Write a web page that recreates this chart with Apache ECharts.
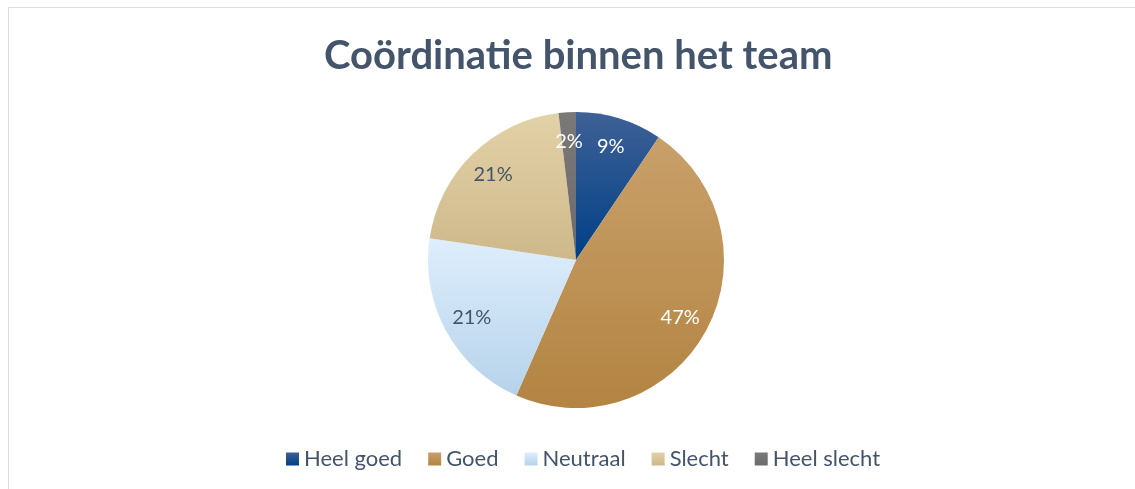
<!DOCTYPE html>
<html>
<head>
<meta charset="utf-8">
<script src="https://cdn.jsdelivr.net/npm/echarts@6/dist/echarts.min.js"></script>
<style>
  html, body { margin: 0; padding: 0; background: #fff; }
  #frame { position: absolute; left: 8px; top: 7px; width: 1140px; height: 500px;
           border-left: 1px solid #d9dde4; border-top: 1px solid #d9dde4; }
  #chart { width: 1135px; height: 489px; position: absolute; left: 0; top: 0; }
</style>
</head>
<body>
<div id="frame"></div>
<div id="chart"></div>
<script>
const categories = ["Heel goed", "Goed", "Neutraal", "Slecht", "Heel slecht"];
const counts = [5, 25, 11, 11, 1];
const percentLabels = ["9%", "47%", "21%", "21%", "2%"];

const gradients = [
  ["#3f6196", "#003f86"],
  ["#c9a06a", "#b38442"],
  ["#deeefd", "#b6d2ea"],
  ["#e3d2a7", "#cdb88a"],
  ["#7b7878", "#6c6a6a"]
];
const labelColors = ["#ffffff", "#ffffff", "#44546a", "#44546a", "#ffffff"];

const grad = (c) => ({
  type: "linear", x: 0, y: 0, x2: 0, y2: 1,
  colorStops: [{ offset: 0, color: c[0] }, { offset: 1, color: c[1] }]
});

const chart = echarts.init(document.getElementById("chart"));
const option = {
  animation: false,
  title: {
    text: "Coördinatie binnen het team",
    left: 319,
    top: 31,
    textStyle: { fontFamily: "Lato", fontWeight: "bold", fontSize: 40, color: "#44546a" }
  },
  legend: {
    bottom: 14,
    left: 281,
    itemWidth: 13,
    itemHeight: 13,
    itemGap: 26,
    icon: "rect",
    textStyle: { fontFamily: "Lato", fontSize: 22, color: "#44546a" },
    data: categories.map((name, i) => ({ name, itemStyle: { color: grad(gradients[i]) } }))
  },
  series: [
    {
      type: "pie",
      center: [576, 260],
      radius: [0, 148],
      startAngle: 90,
      clockwise: true,
      label: { show: false },
      labelLine: { show: false },
      itemStyle: { borderWidth: 0 },
      data: categories.map((name, i) => ({
        name, value: counts[i], itemStyle: { color: grad(gradients[i]) }
      }))
    },
    {
      type: "pie",
      center: [576, 260],
      radius: [0, 232],
      startAngle: 90,
      clockwise: true,
      silent: true,
      legendHoverLink: false,
      itemStyle: { color: "transparent", borderWidth: 0 },
      label: {
        show: true,
        position: "inside",
        fontFamily: "Lato",
        fontSize: 20,
        formatter: (p) => percentLabels[p.dataIndex]
      },
      labelLine: { show: false },
      data: categories.map((name, i) => ({
        name, value: counts[i], label: { color: labelColors[i] }
      }))
    }
  ]
};
chart.setOption(option);
</script>
</body>
</html>
